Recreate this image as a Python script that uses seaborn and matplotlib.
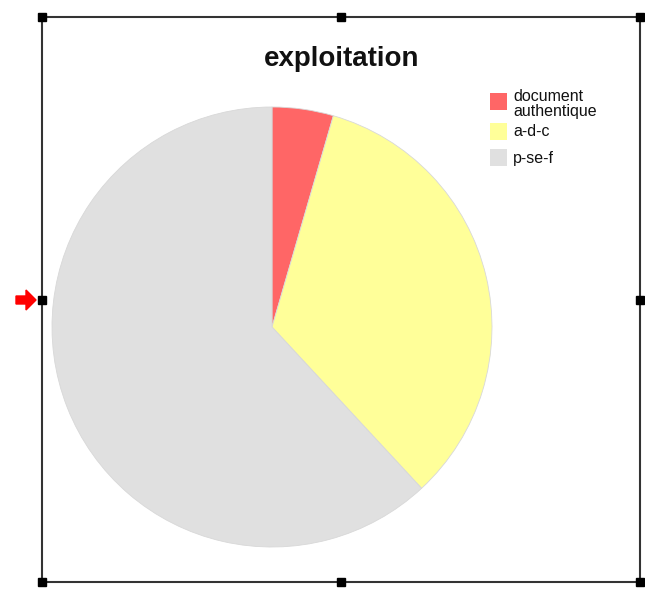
import matplotlib
matplotlib.use('Agg')
import matplotlib.pyplot as plt
import seaborn as sns
from matplotlib.patches import Rectangle, Polygon

# data (percent of the pie)
labels = ['document\nauthentique', 'a-d-c', 'p-se-f']
values = [4.5, 33.6, 61.9]
colors = ['#FF6666', '#FFFF99', '#E0E0E0']

sns.set_theme(style='white')
plt.rcParams['font.family'] = ['Liberation Sans', 'DejaVu Sans']

W, H = 645, 597
fig = plt.figure(figsize=(W / 100, H / 100), dpi=100)

def fx(x):
    return x / W

def fy(y):
    return 1 - y / H

# pie area
ax = fig.add_axes([fx(52), fy(547), 440 / W, 440 / H])
wedges, _ = ax.pie(values, colors=colors, startangle=90, counterclock=False,
                   wedgeprops=dict(linewidth=0.6, edgecolor='#d8d8d8'))
ax.set_aspect('equal')
ax.set_xlim(-1, 1)
ax.set_ylim(-1, 1)
ax.axis('off')

fig.text(fx(342), fy(59), 'exploitation', ha='center', va='center',
         fontsize=20, fontweight='bold', color='#111111')

# legend, drawn by hand to get the tight line spacing of the original
row_y = [101, 131, 158]
for lab, col, yy in zip(labels, colors, row_y):
    fig.patches.append(Rectangle((fx(490), fy(yy + 8.5)), 17 / W, 17 / H,
                                 transform=fig.transFigure, facecolor=col,
                                 edgecolor='none'))
    t = fig.text(fx(513), fy(yy + (3 if '\n' in lab else 0)), lab,
                 ha='left', va='center', fontsize=11.5, color='#111111')
    t.set_linespacing(0.92)

# selection frame around the chart
x0, y0, x1, y1 = 42, 17, 640, 582
fig.patches.append(Rectangle((fx(x0), fy(y1)), fx(x1) - fx(x0), fy(y0) - fy(y1),
                             transform=fig.transFigure, fill=False,
                             edgecolor='#333333', linewidth=1.5))
xm, ym = (x0 + x1) / 2, (y0 + y1) / 2
s = 8
for hx, hy in [(x0, y0), (xm, y0), (x1, y0), (x0, ym), (x1, ym),
               (x0, y1), (xm, y1), (x1, y1)]:
    fig.patches.append(Rectangle((fx(hx - s / 2), fy(hy + s / 2)), s / W, s / H,
                                 transform=fig.transFigure, facecolor='black',
                                 edgecolor='black'))

arrow = [(16, 296), (26, 296), (26, 290), (36, 300), (26, 310), (26, 304), (16, 304)]
fig.patches.append(Polygon([(fx(a), fy(b)) for a, b in arrow], closed=True,
                           transform=fig.transFigure, facecolor='red',
                           edgecolor='red'))

fig.savefig('out.png', dpi=100)
